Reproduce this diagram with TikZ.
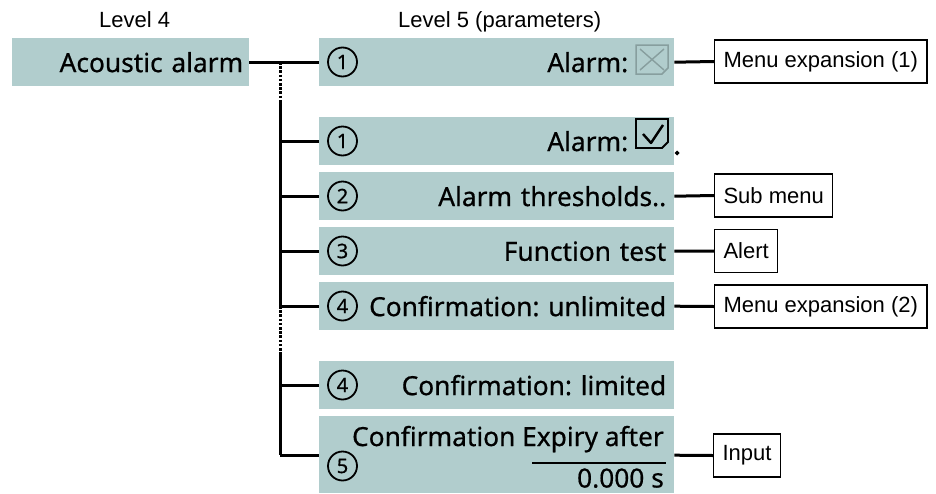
\documentclass[tikz,border=0pt]{standalone}
\usepackage{fontspec}
\setmainfont{Liberation Sans}
\newfontfamily\boxfont[FakeBold=0.6]{Noto Sans}
\definecolor{boxc}{RGB}{177,205,205}
\definecolor{chkgray}{RGB}{135,158,158}
\frenchspacing
\begin{document}
\begin{tikzpicture}[x=1pt,y=-1pt,
  pbox/.style={fill=boxc, anchor=north west, minimum height=48, text width=339,
    inner xsep=8, inner ysep=0, align=right, font=\boxfont\fontsize{26.3}{30}\selectfont},
  btxt/.style={anchor=base east, inner sep=0, font=\boxfont\fontsize{26.3}{30}\selectfont},
  num/.style={circle, draw, line width=1.8, minimum size=29, inner sep=0,
    font=\boxfont\fontsize{20}{20}\selectfont},
  lbl/.style={draw, line width=1.1, anchor=west, minimum height=43, inner xsep=9,
    inner ysep=0, font=\fontsize{22}{24}\selectfont},
  hdr/.style={anchor=base west, inner sep=0, font=\fontsize{22}{24}\selectfont},
  conn/.style={line width=3},
  dotl/.style={line width=3, dash pattern=on 2.6pt off 1.6pt},
]
\useasboundingbox (0,0) rectangle (936,493);

% headers
\node[hdr] (h4) at (99,27) {Level 4};
\node[hdr] (h5) at (398,27) {Level 5 (parameters)};

% level 4
\node[pbox, text width=225, inner xsep=6] (root) at (12,38) {Acoustic alarm};

% level 5 boxes
\node[pbox] (b1) at (319,38) {Alarm:\rule{38pt}{0pt}};
\node[pbox] (b2) at (319,117) {Alarm:\rule{38pt}{0pt}};
\node[pbox] (b3) at (319,172) {Alarm thresholds..};
\node[pbox] (b4) at (319,227) {Function test};
\node[pbox] (b5) at (319,282) {Confirmation: unlimited};
\node[pbox] (b6) at (319,361) {Confirmation: limited};
\node[pbox, minimum height=77] (b7) at (319,416) {};
\node[btxt] (e1) at (664,446) {Confirmation Expiry after};
\node[btxt] (e2) at (664,487.5) {0.000 s};
\draw[line width=1.3] (532,463) -- (666,463);

% numbers
\node[num] (n1) at (342.5,62) {1};
\node[num] (n2) at (342.5,141) {1};
\node[num] (n3) at (342.5,196) {2};
\node[num] (n4) at (342.5,251) {3};
\node[num] (n5) at (342.5,306) {4};
\node[num] (n6) at (342.5,385) {4};
\node[num] (n7) at (342.5,466) {5};

% checkboxes
\draw[chkgray, line width=1.5] (636,45) -- (668,45) -- (668,68) -- (662,74) -- (636,74) -- cycle;
\draw[chkgray, line width=1.4] (640,49) -- (664,70) (664,49) -- (640,70);
\draw[line width=1.8] (636,119) -- (668,119) -- (668,142) -- (662,148) -- (636,148) -- cycle;
\draw[line width=2.4, line join=round] (643,134) -- (651,143) -- (663,125);
\fill (677,150.5) -- (679.5,153) -- (677,155.5) -- (674.5,153) -- cycle;

% label boxes
\node[lbl] (m1) at (714,61.5) {Menu expansion (1)};
\node[lbl] (m2) at (714,195.5) {Sub menu};
\node[lbl] (m3) at (714,251) {Alert};
\node[lbl] (m4) at (714,306.5) {Menu expansion (2)};
\node[lbl] (m5) at (713,455.5) {Input};

% tree
\coordinate (t0) at (280,62);
\coordinate (tA) at (280,100);
\coordinate (t2) at (280,141);
\coordinate (t3) at (280,196);
\coordinate (t4) at (280,251);
\coordinate (t5) at (280,306);
\coordinate (tB) at (280,352);
\coordinate (t6) at (280,385);
\coordinate (t7) at (280,455);
\draw[conn] (root.east) -- (b1.west);
\draw[dotl] (t0) -- (tA);
\draw[conn] (tA) -- (t5);
\draw[dotl] (t5) -- (tB);
\draw[conn] (tB) -- (t7);
\draw[conn] (t2) -- (t2 -| b2.west);
\draw[conn] (t3) -- (t3 -| b3.west);
\draw[conn] (t4) -- (t4 -| b4.west);
\draw[conn] (t5) -- (t5 -| b5.west);
\draw[conn] (t6) -- (t6 -| b6.west);
\draw[conn] (t7) -- (t7 -| b7.west);

% right connectors
\draw[conn] (b1.east) -- (m1.west);
\draw[conn] (b3.east) -- (m2.west);
\draw[conn] (b4.east) -- (m3.west);
\draw[conn] (b5.east) -- (m4.west);
\draw[conn] ([yshift=-0.5]b7.east) -- (m5.west);
\end{tikzpicture}
\end{document}
